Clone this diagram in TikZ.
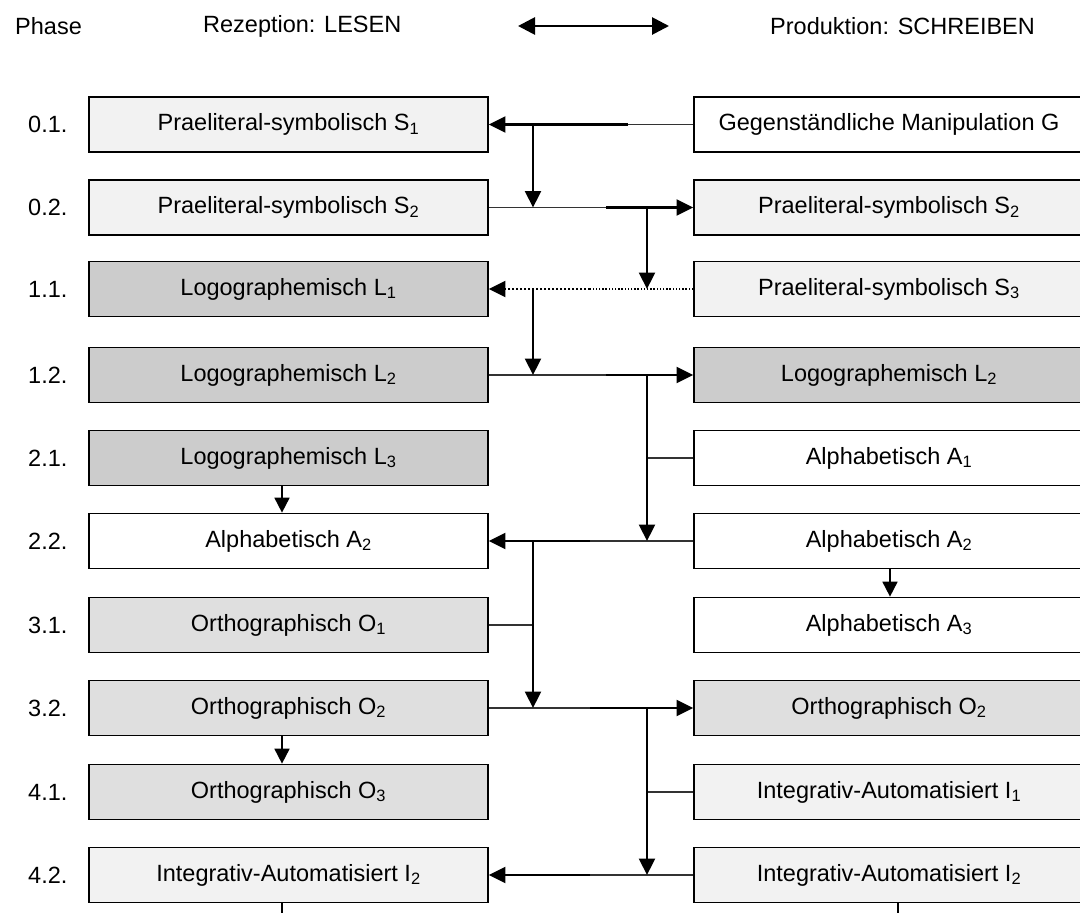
\documentclass[tikz,border=0pt]{standalone}
\usepackage{fontspec}
\setmainfont{Liberation Sans}
\usetikzlibrary{arrows.meta}

\definecolor{fillS}{HTML}{F2F2F2}
\definecolor{fillL}{HTML}{CCCCCC}
\definecolor{fillO}{HTML}{DFDFDF}
\definecolor{thinline}{HTML}{333333}

\begin{document}
\begin{tikzpicture}[x=1pt,y=-1pt,
  every node/.style={font=\fontsize{23.5}{28}\selectfont, inner sep=0pt},
  lbox/.style={draw=black, line width=1.7pt, minimum width=399pt, minimum height=55pt},
  rbox/.style={draw=black, line width=1.7pt, minimum width=390pt, minimum height=55pt},
  phaselbl/.style={anchor=west},
  tip/.style={-{Triangle[length=16.5pt,width=16pt]}},
  conn/.style={line width=1.3pt, draw=thinline},
  connbold/.style={line width=2.1pt, draw=black},
  vert/.style={line width=2.2pt, draw=black, tip},
  vsmall/.style={line width=1.8pt, draw=black, -{Triangle[length=15pt,width=15pt]}},
]
\useasboundingbox (0,0) rectangle (1080,913);

% header line
\node[anchor=west] (hphase) at (15,26) {Phase};
\node[anchor=west] (hread) at (203,26) {Rezeption: LESEN};
\node[anchor=west] (hwrite) at (770,26) {Produktion: SCHREIBEN};
\coordinate (ha) at (518,26);
\coordinate (hb) at (669,26);
\draw[line width=2.8pt, {Triangle[length=17pt,width=17pt]}-{Triangle[length=17pt,width=17pt]}] (ha) -- (hb);

% phase numbers
\node[phaselbl] (p0) at (28,124.5) {0.1.};
\node[phaselbl] (p1) at (28,207.5) {0.2.};
\node[phaselbl] (p2) at (28,289) {1.1.};
\node[phaselbl] (p3) at (28,375) {1.2.};
\node[phaselbl] (p4) at (28,458) {2.1.};
\node[phaselbl] (p5) at (28,541) {2.2.};
\node[phaselbl] (p6) at (28,625) {3.1.};
\node[phaselbl] (p7) at (28,708) {3.2.};
\node[phaselbl] (p8) at (28,792) {4.1.};
\node[phaselbl] (p9) at (28,875) {4.2.};

% reading column
\node[lbox, fill=fillS] (L0) at (288.5,124.5) {Praeliteral-symbolisch S\textsubscript{1}};
\node[lbox, fill=fillS] (L1) at (288.5,207.5) {Praeliteral-symbolisch S\textsubscript{2}};
\node[lbox, fill=fillL] (L2) at (288.5,289) {Logographemisch L\textsubscript{1}};
\node[lbox, fill=fillL] (L3) at (288.5,375) {Logographemisch L\textsubscript{2}};
\node[lbox, fill=fillL] (L4) at (288.5,458) {Logographemisch L\textsubscript{3}};
\node[lbox, fill=white] (L5) at (288.5,541) {Alphabetisch A\textsubscript{2}};
\node[lbox, fill=fillO] (L6) at (288.5,625) {Orthographisch O\textsubscript{1}};
\node[lbox, fill=fillO] (L7) at (288.5,708) {Orthographisch O\textsubscript{2}};
\node[lbox, fill=fillO] (L8) at (288.5,792) {Orthographisch O\textsubscript{3}};
\node[lbox, fill=fillS] (L9) at (288.5,875) {Integrativ-Automatisiert I\textsubscript{2}};

% writing column
\node[rbox, fill=white] (R0) at (889,124.5) {Gegenständliche Manipulation G};
\node[rbox, fill=fillS] (R1) at (889,207.5) {Praeliteral-symbolisch S\textsubscript{2}};
\node[rbox, fill=fillS] (R2) at (889,289) {Praeliteral-symbolisch S\textsubscript{3}};
\node[rbox, fill=fillL] (R3) at (889,375) {Logographemisch L\textsubscript{2}};
\node[rbox, fill=white] (R4) at (889,458) {Alphabetisch A\textsubscript{1}};
\node[rbox, fill=white] (R5) at (889,541) {Alphabetisch A\textsubscript{2}};
\node[rbox, fill=white] (R6) at (889,625) {Alphabetisch A\textsubscript{3}};
\node[rbox, fill=fillO] (R7) at (889,708) {Orthographisch O\textsubscript{2}};
\node[rbox, fill=fillS] (R8) at (889,792) {Integrativ-Automatisiert I\textsubscript{1}};
\node[rbox, fill=fillS] (R9) at (889,875) {Integrativ-Automatisiert I\textsubscript{2}};

% junction points in the gap between the columns
\coordinate (m0) at (628,124.5);
\coordinate (m1) at (606,207.5);
\coordinate (m2) at (590,289);
\coordinate (m3) at (606,375);
\coordinate (m5) at (590,541);
\coordinate (m7) at (590,708);
\coordinate (m9) at (590,875);
\coordinate (a0) at (533,124.5);
\coordinate (a1) at (533,207.5);
\coordinate (a2) at (533,289);
\coordinate (a3) at (533,375);
\coordinate (a5) at (533,541);
\coordinate (a6) at (533,625);
\coordinate (a7) at (533,708);
\coordinate (b1) at (647,207.5);
\coordinate (b2) at (647,289);
\coordinate (b3) at (647,375);
\coordinate (b4) at (647,458);
\coordinate (b5) at (647,541);
\coordinate (b7) at (647,708);
\coordinate (b8) at (647,792);
\coordinate (b9) at (647,875);

% horizontal transfers between reading and writing
\draw[conn] (R0.west) -- (m0);
\draw[connbold, tip] (m0) -- (L0.east);
\draw[conn] (L1.east) -- (m1);
\draw[connbold, tip] (m1) -- (R1.west);
\draw[line width=1.2pt, dash pattern=on 1.4pt off 1.8pt] (R2.west) -- (m2);
\draw[line width=2pt, dash pattern=on 2pt off 2pt, tip] (m2) -- (L2.east);
\draw[conn] (L3.east) -- (m3);
\draw[connbold, tip] (m3) -- (R3.west);
\draw[conn] (R5.west) -- (m5);
\draw[connbold, tip] (m5) -- (L5.east);
\draw[conn] (L7.east) -- (m7);
\draw[connbold, tip] (m7) -- (R7.west);
\draw[conn] (R9.west) -- (m9);
\draw[connbold, tip] (m9) -- (L9.east);

% side branches joining the vertical transfers
\draw[conn] (R4.west) -- (b4);
\draw[conn] (L6.east) -- (a6);
\draw[conn] (R8.west) -- (b8);

% vertical transfers
\draw[vert] (a0) -- (a1);
\draw[vert] (b1) -- (b2);
\draw[vert] (a2) -- (a3);
\draw[line width=1.5pt] (b3) -- (b4);
\draw[vert] (b4) -- (b5);
\draw[line width=1.5pt] (a5) -- (a6);
\draw[vert] (a6) -- (a7);
\draw[line width=1.5pt] (b7) -- (b8);
\draw[vert] (b8) -- (b9);

% steps within one column
\draw[vsmall] (L4.south -| 282,0) -- (L5.north -| 282,0);
\draw[vsmall] (R5.south -| 890,0) -- (R6.north -| 890,0);
\draw[vsmall] (L7.south -| 282,0) -- (L8.north -| 282,0);

% lines running on below the last phase
\coordinate (e1) at (282,913);
\coordinate (e2) at (898,913);
\draw[line width=1.3pt] (L9.south -| e1) -- (e1);
\draw[line width=1.3pt] (R9.south -| e2) -- (e2);
\end{tikzpicture}
\end{document}
